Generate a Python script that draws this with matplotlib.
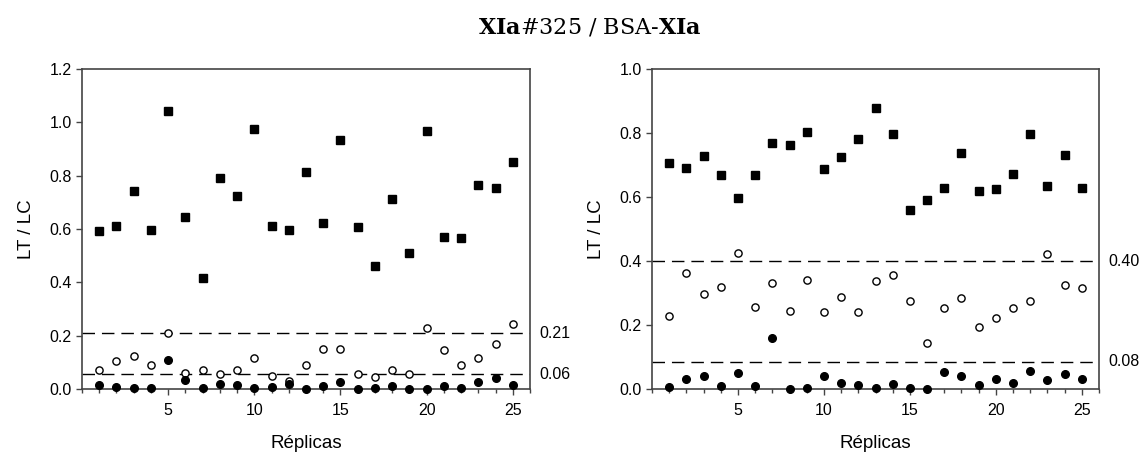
import matplotlib
matplotlib.use('Agg')
import matplotlib.pyplot as plt
import matplotlib.transforms as mtransforms

plt.rcParams['font.family'] = ['Liberation Sans', 'DejaVu Sans']
plt.rcParams['mathtext.fontset'] = 'dejavuserif'

replicas = list(range(1, 26))

# Left panel: XIa#325
left_squares = [0.594, 0.612, 0.742, 0.596, 1.041, 0.645, 0.415, 0.790, 0.724, 0.975,
                0.612, 0.598, 0.812, 0.624, 0.934, 0.609, 0.461, 0.711, 0.511, 0.966,
                0.570, 0.565, 0.764, 0.752, 0.851]
left_open = [0.070, 0.105, 0.125, 0.090, 0.210, 0.060, 0.070, 0.055, 0.070, 0.115,
             0.050, 0.030, 0.090, 0.150, 0.150, 0.055, 0.045, 0.070, 0.055, 0.230,
             0.145, 0.090, 0.115, 0.170, 0.245]
left_filled = [0.015, 0.008, 0.005, 0.003, 0.110, 0.035, 0.003, 0.020, 0.015, 0.005,
               0.008, 0.020, 0.000, 0.013, 0.028, 0.000, 0.003, 0.010, 0.000, 0.000,
               0.013, 0.003, 0.025, 0.040, 0.015]
left_cutoffs = [0.21, 0.056]
left_cutoff_labels = ['0.21', '0.06']

# Right panel: BSA-XIa
right_squares = [0.707, 0.692, 0.728, 0.668, 0.596, 0.668, 0.770, 0.763, 0.802, 0.688,
                 0.724, 0.782, 0.877, 0.796, 0.559, 0.590, 0.628, 0.736, 0.620, 0.626,
                 0.671, 0.796, 0.633, 0.731, 0.627]
right_open = [0.227, 0.362, 0.296, 0.319, 0.424, 0.255, 0.331, 0.243, 0.341, 0.242,
              0.288, 0.240, 0.338, 0.355, 0.276, 0.145, 0.252, 0.284, 0.195, 0.223,
              0.252, 0.276, 0.421, 0.324, 0.315]
right_filled = [0.005, 0.030, 0.040, 0.010, 0.050, 0.008, 0.160, 0.000, 0.003, 0.040,
                0.018, 0.013, 0.003, 0.015, 0.003, 0.000, 0.053, 0.040, 0.013, 0.030,
                0.018, 0.055, 0.028, 0.048, 0.030]
right_cutoffs = [0.40, 0.085]
right_cutoff_labels = ['0.40', '0.08']

W, H = 1143, 454
fig = plt.figure(figsize=(W / 100, H / 100), dpi=100)
spine_col = '#444444'


def draw_panel(rect, squares, opens, filled, cutoffs, cutoff_labels, ymax):
    ax = fig.add_axes(rect)
    trans = mtransforms.blended_transform_factory(ax.transAxes, ax.transData)
    for val, lab in zip(cutoffs, cutoff_labels):
        ax.axhline(val, color='black', linewidth=1.0, dashes=(9, 5), zorder=1)
        ax.text(1.02, val, lab, transform=trans, va='center', ha='left', fontsize=11.5)
    ax.plot(replicas, squares, 's', color='black', markersize=5.2, linestyle='none',
            clip_on=False, zorder=3)
    ax.plot(replicas, opens, 'o', markerfacecolor='white', markeredgecolor='black',
            markeredgewidth=1.0, markersize=5.2, linestyle='none', clip_on=False, zorder=3)
    ax.plot(replicas, filled, 'o', color='black', markersize=5.5, linestyle='none',
            clip_on=False, zorder=3)
    ax.set_xlim(0, 26)
    ax.set_ylim(0, ymax)
    ax.set_xticks([5, 10, 15, 20, 25])
    ax.set_xticks(range(0, 27), minor=True)
    ax.set_yticks([round(0.2 * i, 1) for i in range(int(round(ymax / 0.2)) + 1)])
    ax.yaxis.set_major_formatter(plt.FormatStrFormatter('%.1f'))
    ax.tick_params(axis='both', which='both', direction='out', length=4,
                   width=1, color=spine_col, labelsize=11.5)
    ax.tick_params(axis='x', which='both', pad=6)
    ax.tick_params(axis='x', which='minor', length=3)
    for sp in ax.spines.values():
        sp.set_color(spine_col)
        sp.set_linewidth(1.2)
    ax.set_xlabel('Réplicas', fontsize=13.5, labelpad=12)
    ax.set_ylabel('LT / LC', fontsize=13.5, labelpad=10)
    return ax


bottom = (H - 389) / H
height = 320 / H
draw_panel([82 / W, bottom, 448 / W, height], left_squares, left_open, left_filled,
           left_cutoffs, left_cutoff_labels, 1.2)
draw_panel([652 / W, bottom, 447 / W, height], right_squares, right_open, right_filled,
           right_cutoffs, right_cutoff_labels, 1.0)

fig.text(590 / W, 1 - 28 / H, r'$\mathbf{XIa}$#325 / BSA-$\mathbf{XIa}$',
         ha='center', va='center', fontsize=16, family='DejaVu Serif')

fig.savefig('out.png', dpi=100)
